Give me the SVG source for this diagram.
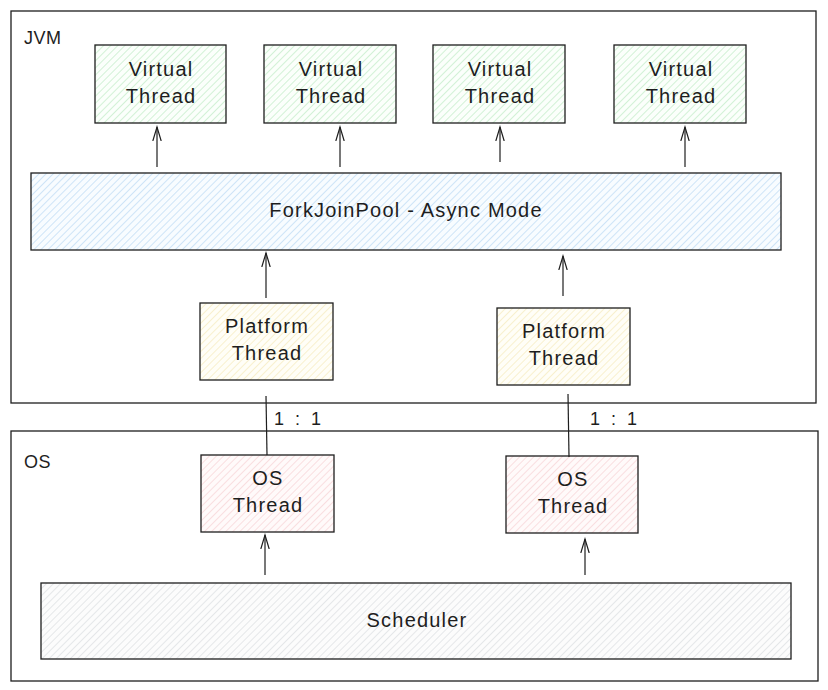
<svg xmlns="http://www.w3.org/2000/svg" width="828" height="690" viewBox="0 0 828 690">
<style>
  .frame { fill: none; stroke: #1e1e1e; stroke-width: 1.3; }
  .box { stroke: #1e1e1e; stroke-width: 1.3; }
  .lbl { font-family: "Liberation Sans", Arial, sans-serif; font-size: 20px; letter-spacing: 1.2px; fill: #1e1e1e; text-anchor: middle; }
  .title { font-family: "Liberation Sans", Arial, sans-serif; font-size: 18px; letter-spacing: 0.5px; fill: #1e1e1e; }
  .ratio { font-family: "Liberation Sans", Arial, sans-serif; font-size: 18px; letter-spacing: 3px; fill: #1e1e1e; }
  .conn { fill: none; stroke: #1e1e1e; stroke-width: 1.2; }
</style>
<defs>
  <pattern id="hG" width="5" height="5" patternUnits="userSpaceOnUse" patternTransform="rotate(45)">
    <rect width="5" height="5" fill="#fbfffb"/><line x1="0" y1="0" x2="0" y2="5" stroke="#a9e3b2" stroke-width="1"/>
  </pattern>
  <pattern id="hB" width="5" height="5" patternUnits="userSpaceOnUse" patternTransform="rotate(45)">
    <rect width="5" height="5" fill="#f8fcff"/><line x1="0" y1="0" x2="0" y2="5" stroke="#a5cdef" stroke-width="1"/>
  </pattern>
  <pattern id="hY" width="5" height="5" patternUnits="userSpaceOnUse" patternTransform="rotate(45)">
    <rect width="5" height="5" fill="#fffef7"/><line x1="0" y1="0" x2="0" y2="5" stroke="#f2e2a6" stroke-width="1"/>
  </pattern>
  <pattern id="hR" width="5" height="5" patternUnits="userSpaceOnUse" patternTransform="rotate(45)">
    <rect width="5" height="5" fill="#fffafa"/><line x1="0" y1="0" x2="0" y2="5" stroke="#f3c3c6" stroke-width="1"/>
  </pattern>
  <pattern id="hS" width="5" height="5" patternUnits="userSpaceOnUse" patternTransform="rotate(45)">
    <rect width="5" height="5" fill="#fcfcfc"/><line x1="0" y1="0" x2="0" y2="5" stroke="#cfd3d6" stroke-width="1"/>
  </pattern>
  <marker id="arr" markerWidth="16" markerHeight="12" refX="14" refY="6" orient="auto" markerUnits="userSpaceOnUse">
    <polyline points="0,1.8 14,6 0,10.2" fill="none" stroke="#1e1e1e" stroke-width="1.2"/>
  </marker>
</defs>

<g id="jvm">
  <rect class="frame" x="11" y="11" width="805" height="392"/>
  <text class="title" x="24" y="44">JVM</text>
</g>
<g id="os">
  <rect class="frame" x="11" y="431" width="807" height="250"/>
  <text class="title" x="24" y="468">OS</text>
</g>

<g id="vt1"><rect class="box" x="95" y="45" width="131" height="78" fill="url(#hG)"/>
  <text class="lbl" x="161" y="76">Virtual</text><text class="lbl" x="161" y="103">Thread</text></g>
<g id="vt2"><rect class="box" x="264" y="45" width="132" height="78" fill="url(#hG)"/>
  <text class="lbl" x="331" y="76">Virtual</text><text class="lbl" x="331" y="103">Thread</text></g>
<g id="vt3"><rect class="box" x="433" y="45" width="132" height="78" fill="url(#hG)"/>
  <text class="lbl" x="500" y="76">Virtual</text><text class="lbl" x="500" y="103">Thread</text></g>
<g id="vt4"><rect class="box" x="614" y="45" width="132" height="78" fill="url(#hG)"/>
  <text class="lbl" x="681" y="76">Virtual</text><text class="lbl" x="681" y="103">Thread</text></g>

<g id="fjp"><rect class="box" x="31" y="173" width="750" height="77" fill="url(#hB)"/>
  <text class="lbl" x="406" y="217">ForkJoinPool - Async Mode</text></g>

<g id="pt1"><rect class="box" x="200" y="303" width="133" height="77" fill="url(#hY)"/>
  <text class="lbl" x="267" y="333">Platform</text><text class="lbl" x="267" y="360">Thread</text></g>
<g id="pt2"><rect class="box" x="497" y="308" width="133" height="77" fill="url(#hY)"/>
  <text class="lbl" x="564" y="338">Platform</text><text class="lbl" x="564" y="365">Thread</text></g>

<g id="ost1"><rect class="box" x="201" y="455" width="133" height="77" fill="url(#hR)"/>
  <text class="lbl" x="268" y="485">OS</text><text class="lbl" x="268" y="512">Thread</text></g>
<g id="ost2"><rect class="box" x="506" y="456" width="132" height="77" fill="url(#hR)"/>
  <text class="lbl" x="573" y="486">OS</text><text class="lbl" x="573" y="513">Thread</text></g>

<g id="sched"><rect class="box" x="41" y="583" width="750" height="76" fill="url(#hS)"/>
  <text class="lbl" x="417" y="627">Scheduler</text></g>

<g id="connectors">
  <line class="conn" x1="157" y1="167" x2="157" y2="127" marker-end="url(#arr)"/>
  <line class="conn" x1="340" y1="167" x2="340" y2="127" marker-end="url(#arr)"/>
  <line class="conn" x1="500" y1="162" x2="500" y2="127" marker-end="url(#arr)"/>
  <line class="conn" x1="685" y1="167" x2="685" y2="127" marker-end="url(#arr)"/>
  <line class="conn" x1="266" y1="298" x2="266" y2="253" marker-end="url(#arr)"/>
  <line class="conn" x1="563" y1="296" x2="563" y2="256" marker-end="url(#arr)"/>
  <line class="conn" x1="266" y1="396" x2="267" y2="455"/>
  <line class="conn" x1="568" y1="394" x2="569" y2="457"/>
  <text class="ratio" x="274" y="425">1 : 1</text>
  <text class="ratio" x="590" y="425">1 : 1</text>
  <line class="conn" x1="265" y1="575" x2="265" y2="535" marker-end="url(#arr)"/>
  <line class="conn" x1="585" y1="575" x2="585" y2="539" marker-end="url(#arr)"/>
</g>
</svg>
